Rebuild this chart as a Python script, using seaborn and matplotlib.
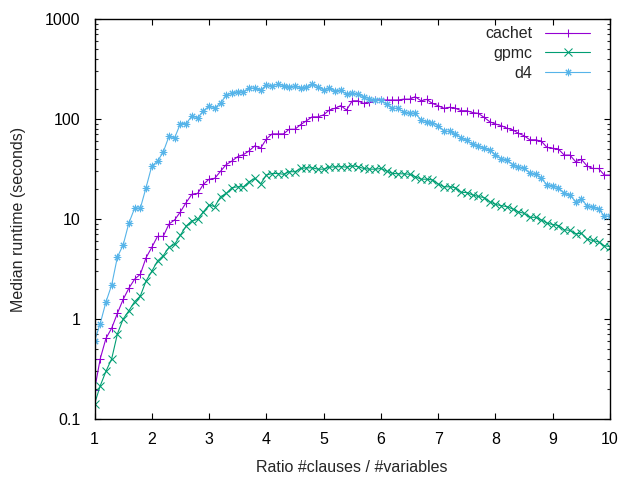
import matplotlib
matplotlib.use("Agg")
import matplotlib.pyplot as plt
import seaborn as sns
import numpy as np
import pandas as pd
from matplotlib.ticker import LogLocator, FixedLocator, NullFormatter

ratio = [round(1 + 0.1 * i, 1) for i in range(91)]

cachet = [0.195, 0.40, 0.64, 0.81, 1.14, 1.57, 2.03, 2.5, 2.8, 4.1,
          5.2, 6.7, 6.7, 8.9, 9.8, 11.8, 14.6, 17.7, 18, 22.2,
          25, 25.5, 30, 35, 38, 42, 44, 48, 54, 51,
          63, 71, 71, 71, 79, 79, 88, 96, 105, 105,
          110, 123, 128, 136, 123, 152, 152, 143, 147, 155,
          155, 155, 155, 155, 158, 158, 167, 152, 157, 143,
          136, 128, 131, 128, 121, 121, 116, 114, 104, 94,
          89, 86, 81, 78, 72, 68, 62, 62, 60, 52,
          51, 50, 43.6, 43.6, 37.4, 39.5, 33.9, 32, 32, 27.5,
          27.5]

gpmc = [0.141, 0.215, 0.30, 0.40, 0.71, 1.0, 1.21, 1.49, 1.70, 2.4,
        3.0, 3.8, 4.3, 5.2, 5.6, 6.9, 8.5, 9.6, 9.9, 11.8,
        13.8, 13.3, 16.7, 18, 20.6, 21, 21, 23.6, 25.5, 22.4,
        27.5, 28.5, 28.5, 28, 29.7, 29.7, 32, 32.5, 32.5, 31.5,
        31.5, 33, 33.2, 33.4, 33, 34, 33.4, 32, 31.5, 31.5,
        32, 30.2, 28.6, 28.3, 28.3, 28, 26.5, 25, 25, 24.6,
        22.4, 21, 21, 20.6, 18.5, 18.4, 17.4, 16.8, 16.4, 14.9,
        14, 13.6, 13.3, 12.6, 11.8, 11.4, 10.4, 10.4, 9.8, 9.1,
        8.8, 8.6, 7.8, 7.7, 7.1, 7.2, 6.3, 6.1, 5.9, 5.4,
        5.3]

d4 = [0.60, 0.9, 1.48, 2.19, 4.17, 5.5, 9.1, 12.8, 12.8, 20.6,
      33.9, 37.8, 46.8, 67, 65, 90, 90, 107, 103, 120,
      135, 129, 145, 172, 183, 188, 186, 204, 204, 194,
      219, 216, 222, 216, 211, 212, 206, 207, 222, 211,
      195, 203, 190, 195, 176, 180, 176, 167, 160, 155,
      154, 140, 128, 128, 117, 114, 114, 98, 94, 92,
      86, 76, 75, 71, 65, 61, 56, 54, 51, 49,
      44, 40, 39, 35, 33, 32.5, 28.6, 28, 25.7, 21.9,
      21.6, 20.6, 18, 17.4, 14.9, 15.8, 13.6, 13.2, 12.6, 10.7,
      10.7]

series_names = ["cachet", "gpmc", "d4"]
colors = ["#9400D3", "#009E73", "#56B4E9"]
markers = ["+", "x", (8, 2, 0)]

df = pd.concat([
    pd.DataFrame({"ratio": ratio, "runtime": vals, "solver": name})
    for name, vals in zip(series_names, [cachet, gpmc, d4])
])

sns.set_style("white")
plt.rcParams["font.family"] = ["Liberation Sans", "DejaVu Sans"]
FS = 11.5
plt.rcParams["font.size"] = FS

fig = plt.figure(figsize=(6.4, 4.8), dpi=100)
ax = fig.add_axes([94.5 / 640, 61 / 480, (610 - 94.5) / 640, (419 - 19) / 480])

for name, col, mk in zip(series_names, colors, markers):
    sub = df[df["solver"] == name]
    sns.lineplot(data=sub, x="ratio", y="runtime", ax=ax, color=col,
                 marker=mk, markersize=5.3, markeredgewidth=0.75,
                 markeredgecolor=col, linewidth=0.8, label=name,
                 estimator=None, errorbar=None)

ax.set_yscale("log")
ax.set_xlim(1, 10)
ax.set_ylim(0.1, 1000)
ax.xaxis.set_major_locator(FixedLocator(list(range(1, 11))))
ax.set_yticks([0.1, 1, 10, 100, 1000])
ax.set_yticklabels(["0.1", "1", "10", "100", "1000"])
ax.yaxis.set_minor_locator(LogLocator(base=10, subs=np.arange(2, 10)))
ax.yaxis.set_minor_formatter(NullFormatter())

for s in ax.spines.values():
    s.set_visible(True)
    s.set_color("black")
    s.set_linewidth(1.0)

ax.tick_params(axis="x", which="major", direction="in", length=4.5,
               width=0.8, top=True, bottom=True, labelsize=FS, pad=9,
               colors="black")
ax.tick_params(axis="y", which="major", direction="in", length=4.5,
               width=0.8, left=True, right=True, labelsize=FS, pad=10,
               colors="black")
ax.tick_params(axis="y", which="minor", direction="in", length=2.5,
               width=0.8, left=True, right=True)
ax.grid(False)

ax.set_xlabel("Ratio #clauses / #variables", fontsize=FS, labelpad=10)
ax.set_ylabel("Median runtime (seconds)", fontsize=FS, labelpad=14)

leg = ax.legend(loc="upper right", bbox_to_anchor=(0.9736, 0.998),
                frameon=False, markerfirst=False,
                handlelength=2.8, fontsize=FS, borderaxespad=0.0,
                labelspacing=0.3, handletextpad=0.8)

fig.savefig("out.png", dpi=100)
